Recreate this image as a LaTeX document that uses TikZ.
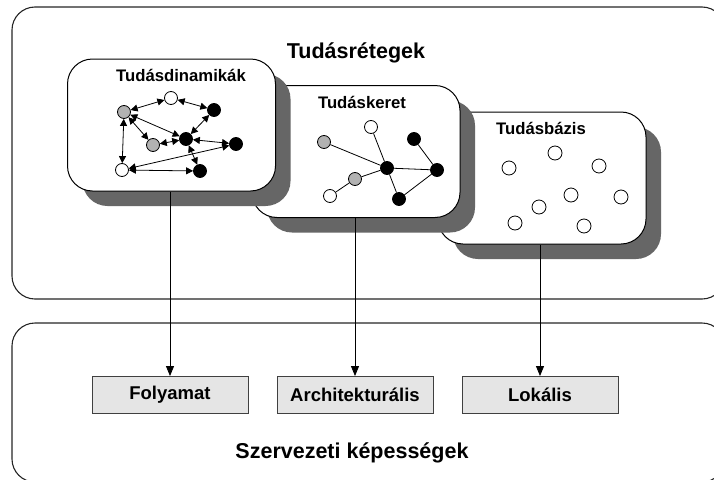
\documentclass[tikz,border=0pt]{standalone}
\usepackage{fontspec}
\setmainfont{Liberation Sans}
\usetikzlibrary{arrows.meta,shadows}

\begin{document}
\begin{tikzpicture}[x=1pt,y=-1pt,
  frame/.style={draw=black!85, line width=1.1pt, rounded corners=23pt},
  card/.style={draw=black, line width=1pt, fill=white, rounded corners=25pt,
    inner sep=0pt, minimum width=208pt, minimum height=132pt,
    drop shadow={shadow xshift=15pt, shadow yshift=-15pt, fill=black!60, opacity=1}},
  cardlabel/.style={anchor=base, font=\fontsize{16.7}{19}\selectfont\bfseries},
  title/.style={anchor=base, font=\fontsize{21.5}{25}\selectfont\bfseries},
  dot/.style={circle, draw=black, line width=0.8pt, minimum size=13pt, inner sep=0pt},
  wn/.style={dot, fill=white},
  gn/.style={dot, fill=black!30},
  bn/.style={dot, fill=black},
  bond/.style={line width=0.8pt},
  flowlink/.style={line width=0.8pt, <->, >={Triangle[length=7pt,width=7pt]}},
  capbox/.style={draw=black!75, line width=0.9pt, fill=black!10, inner sep=0pt,
    minimum width=156pt, minimum height=37pt,
    font=\fontsize{18.5}{21}\selectfont\bfseries},
  feed/.style={line width=0.8pt, -{Triangle[length=10pt,width=8pt]}}
]
\useasboundingbox (0,0) rectangle (714,479);
\clip (0,0) rectangle (714,479);

% the two layers
\draw[frame, fill=white] (12,7) rectangle (725,299);
\draw[frame, fill=white] (12,323) rectangle (725,482);
\node[title] (layers) at (356,58) {Tudásrétegek};
\node[title] (caps) at (352,458) {Szervezeti képességek};

% knowledge base: isolated items
\node[card] (base) at (542,178) {};
\node[cardlabel] (baselbl) at (541,134) {Tudásbázis};
\node[wn, minimum size=14pt] (k1) at (555,153) {};
\node[wn, minimum size=14pt] (k2) at (509,168) {};
\node[wn, minimum size=14pt] (k3) at (599,166) {};
\node[wn, minimum size=14pt] (k4) at (571,195) {};
\node[wn, minimum size=14pt] (k5) at (621,197) {};
\node[wn, minimum size=14pt] (k6) at (539,207) {};
\node[wn, minimum size=14pt] (k7) at (515,223) {};
\node[wn, minimum size=14pt] (k8) at (584,226) {};

% knowledge framework: static links
\node[card] (frame) at (356,151.5) {};
\node[cardlabel] (framelbl) at (362,108) {Tudáskeret};
\node[wn] (f1) at (371,127) {};
\node[gn] (f2) at (324,142) {};
\node[bn] (f3) at (414,139) {};
\node[bn] (f4) at (387,168) {};
\node[bn] (f5) at (437,170) {};
\node[gn] (f6) at (355,179) {};
\node[wn] (f7) at (330,196) {};
\node[bn] (f8) at (399,199) {};
\draw[bond] (f2) -- (f4);
\draw[bond] (f1) -- (f4);
\draw[bond] (f4) -- (f5);
\draw[bond] (f3) -- (f5);
\draw[bond] (f4) -- (f8);
\draw[bond] (f8) -- (f5);
\draw[bond] (f4) -- (f6);
\draw[bond] (f6) -- (f7);

% knowledge dynamics: two-way flows
\node[card] (dyn) at (171.5,125) {};
\node[cardlabel] (dynlbl) at (181,81) {Tudásdinamikák};
\node[wn] (d1) at (171,98) {};
\node[gn] (d2) at (124,112) {};
\node[bn] (d3) at (214,110) {};
\node[bn] (d4) at (186,139) {};
\node[gn] (d5) at (153,145) {};
\node[bn] (d6) at (236,144) {};
\node[wn] (d7) at (122,170) {};
\node[bn] (d8) at (200,171) {};
\draw[flowlink] (d2) -- (d1);
\draw[flowlink] (d1) -- (d3);
\draw[flowlink] (d3) -- (d4);
\draw[flowlink] (d2) -- (d4);
\draw[flowlink] (d2) -- (d5);
\draw[flowlink] (d4) -- (d5);
\draw[flowlink] (d4) -- (d6);
\draw[flowlink] (d2) -- (d7);
\draw[flowlink] (d7) -- (d6);
\draw[flowlink] (d7) -- (d8);
\draw[flowlink] (d4) -- (d8);

% organisational capabilities
\node[capbox] (proc) at (170,395) {Folyamat};
\node[capbox] (arch) at (355,395) {Architekturális};
\node[capbox] (loc) at (540,395) {Lokális};

\draw[feed] (proc.north |- dyn.south) -- (proc.north);
\draw[feed] (arch.north |- frame.south) -- (arch.north);
\draw[feed] (loc.north |- base.south) -- (loc.north);
\end{tikzpicture}
\end{document}
